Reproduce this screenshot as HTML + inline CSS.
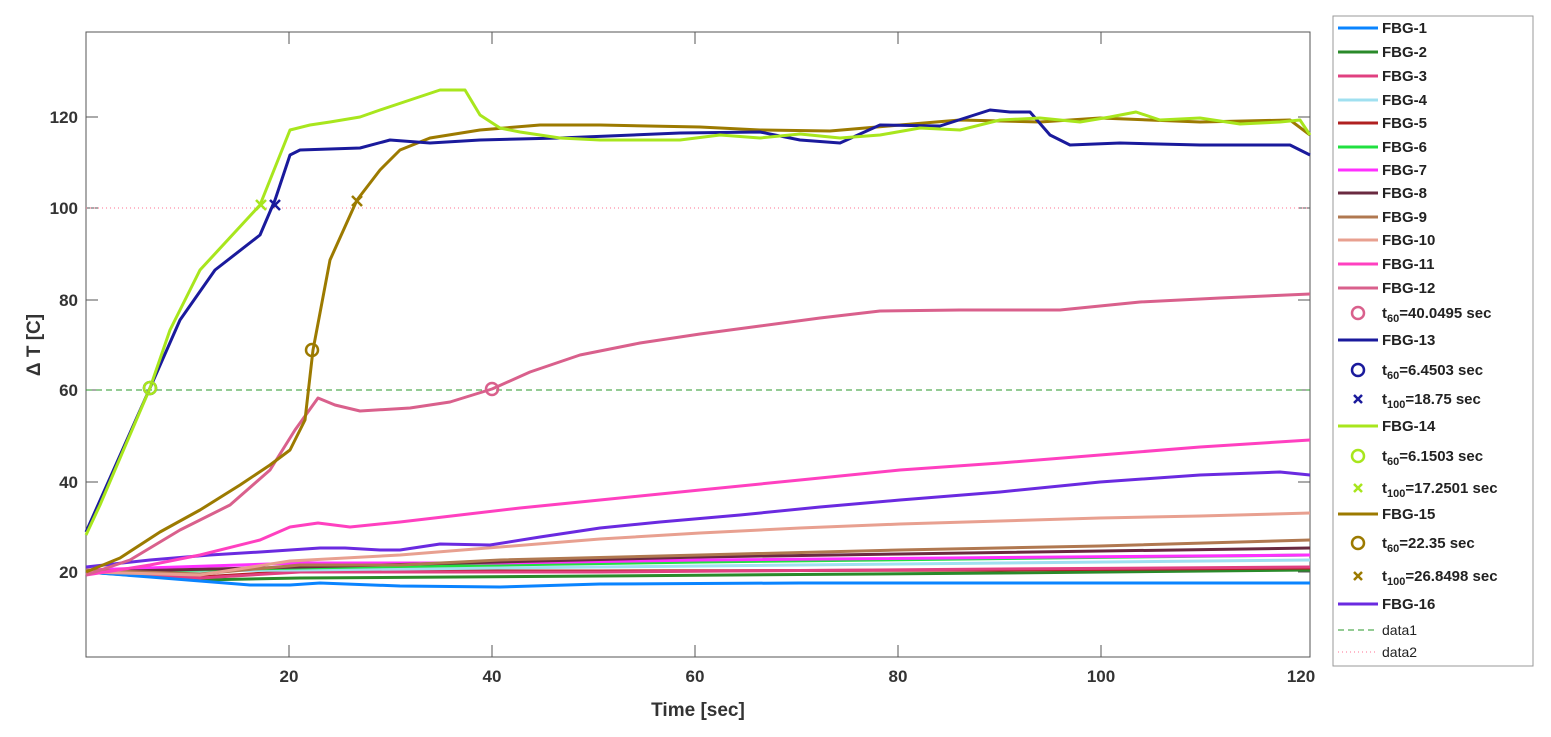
<!DOCTYPE html>
<html><head><meta charset="utf-8"><style>
html,body{margin:0;padding:0;background:#fff;}
svg{display:block;font-family:"Liberation Sans",Arial,sans-serif;}
</style></head><body>
<svg width="1551" height="737" viewBox="0 0 1551 737" xmlns="http://www.w3.org/2000/svg">
<rect width="1551" height="737" fill="#fff"/>
<!-- axes box -->
<rect x="86" y="32" width="1224" height="625" fill="none" stroke="#555" stroke-width="1"/>
<g stroke="#555" stroke-width="1">
<line x1="289" y1="657" x2="289" y2="645"/><line x1="492" y1="657" x2="492" y2="645"/><line x1="695" y1="657" x2="695" y2="645"/><line x1="898" y1="657" x2="898" y2="645"/><line x1="1101" y1="657" x2="1101" y2="645"/>
<line x1="289" y1="32" x2="289" y2="44"/><line x1="492" y1="32" x2="492" y2="44"/><line x1="695" y1="32" x2="695" y2="44"/><line x1="898" y1="32" x2="898" y2="44"/><line x1="1101" y1="32" x2="1101" y2="44"/>
<line x1="86" y1="117" x2="98" y2="117"/><line x1="86" y1="208" x2="98" y2="208"/><line x1="86" y1="300" x2="98" y2="300"/><line x1="86" y1="390" x2="98" y2="390"/><line x1="86" y1="482" x2="98" y2="482"/><line x1="86" y1="572" x2="98" y2="572"/>
<line x1="1310" y1="117" x2="1298" y2="117"/><line x1="1310" y1="208" x2="1298" y2="208"/><line x1="1310" y1="300" x2="1298" y2="300"/><line x1="1310" y1="390" x2="1298" y2="390"/><line x1="1310" y1="482" x2="1298" y2="482"/><line x1="1310" y1="572" x2="1298" y2="572"/>
</g>
<g font-size="17" font-weight="bold" fill="#333" text-anchor="middle">
<text x="289" y="682">20</text><text x="492" y="682">40</text><text x="695" y="682">60</text><text x="898" y="682">80</text><text x="1101" y="682">100</text><text x="1301" y="682">120</text>
<text x="698" y="716" font-size="19">Time [sec]</text>
</g>
<g font-size="17" font-weight="bold" fill="#333" text-anchor="end">
<text x="78" y="123">120</text><text x="78" y="214">100</text><text x="78" y="306">80</text><text x="78" y="396">60</text><text x="78" y="488">40</text><text x="78" y="578">20</text>
</g>
<text transform="translate(40,345) rotate(-90)" font-size="19" font-weight="bold" fill="#333" text-anchor="middle">Δ T [C]</text>
<!-- reference lines -->
<line x1="86" y1="390" x2="1310" y2="390" stroke="#2a9a2a" stroke-width="1" stroke-dasharray="6,4"/>
<line x1="86" y1="208" x2="1310" y2="208" stroke="#ff7090" stroke-width="1" stroke-dasharray="1,3"/>
<g fill="none" stroke-width="3" stroke-linejoin="round">
<polyline stroke="#2a8a2a" points="86,572 200,580 300,578 600,576 1000,573 1310,570"/>
<polyline stroke="#b02020" points="86,572 200,577 300,571 600,571 1000,570 1310,568"/>
<polyline stroke="#e04080" points="86,572 200,578 300,572 600,572 1000,569 1310,567"/>
<polyline stroke="#a0e0f0" points="86,572 300,570 700,566 1310,560"/>
<polyline stroke="#20e040" points="86,572 300,568 700,562 1310,555"/>
<polyline stroke="#ff30ff" points="86,570 300,563 500,563 700,560 1310,555"/>
<polyline stroke="#6a2a40" points="86,572 300,567 500,562 700,557 900,554 1310,548"/>
<polyline stroke="#b07850" points="86,570 200,574 300,565 400,565 500,560 700,555 900,550 1100,546 1310,540"/>
<polyline stroke="#0a84ff" points="86,572 150,577 250,585 290,585 320,583 400,586 500,587 600,584 800,583 1000,583 1310,583"/>
<polyline stroke="#e8a090" points="86,572 200,575 290,561 400,555 500,547 600,539 700,533 800,528 900,524 1000,521 1100,518 1200,516 1310,513"/>
<polyline stroke="#6a2ae0" points="86,567 150,560 210,555 260,552 290,550 320,548 345,548 380,550 400,550 440,544 490,545 540,537 600,528 660,522 740,515 820,507 900,500 1000,492 1100,482 1200,475 1280,472 1310,475"/>
<polyline stroke="#ff40c0" points="86,575 150,565 200,555 260,540 290,527 318,523 350,527 400,522 460,515 520,508 600,500 700,490 800,480 900,470 1000,463 1100,455 1200,447 1310,440"/>
<polyline stroke="#d9608c" points="86,575 130,560 180,530 230,505 270,470 295,430 318,398 335,405 360,411 410,408 450,402 492,389 530,372 580,355 640,343 700,334 760,326 820,318 880,311 960,310 1060,310 1140,302 1220,298 1310,294"/>
<polyline stroke="#9c7a00" points="86,572 120,558 160,532 200,510 240,485 270,465 290,450 305,420 313,350 330,260 357,200 380,170 400,150 430,138 480,130 540,125 600,125 700,127 760,130 830,131 900,125 960,120 1040,122 1100,118 1200,122 1290,120 1310,135"/>
<polyline stroke="#1a1a9c" points="86,532 150,388 180,320 215,270 260,235 275,200 290,155 300,150 360,148 390,140 430,143 480,140 560,138 680,133 760,132 800,140 840,143 880,125 940,126 990,110 1010,112 1030,112 1050,135 1070,145 1120,143 1200,145 1290,145 1310,155"/>
<polyline stroke="#a8e61d" points="86,535 100,505 150,388 170,330 200,270 260,205 290,130 310,125 330,122 360,117 380,110 410,100 440,90 465,90 480,115 500,128 520,132 560,138 600,140 680,140 720,135 760,138 800,134 840,138 880,135 920,128 960,130 1000,120 1040,118 1080,122 1110,117 1136,112 1160,120 1200,118 1240,124 1280,122 1300,120 1310,135"/>
</g>
<!-- markers -->
<g fill="none" stroke-width="2.5">
<circle cx="150" cy="388" r="6" stroke="#1a1a9c"/>
<circle cx="150" cy="388" r="6" stroke="#a8e61d"/>
<circle cx="312" cy="350" r="6" stroke="#9c7a00"/>
<circle cx="492" cy="389" r="6" stroke="#d9608c"/>
<path d="M256,200 l10,10 M266,200 l-10,10" stroke="#a8e61d"/>
<path d="M270,200 l10,10 M280,200 l-10,10" stroke="#1a1a9c"/>
<path d="M352,196 l10,10 M362,196 l-10,10" stroke="#9c7a00"/>
</g>
<!-- legend -->
<rect x="1333" y="16" width="200" height="650" fill="#fff" stroke="#999" stroke-width="1"/>
<g font-size="15" font-weight="bold" fill="#222">
<g stroke-width="3">
<line x1="1338" y1="28" x2="1378" y2="28" stroke="#0a84ff"/>
<line x1="1338" y1="52" x2="1378" y2="52" stroke="#2a8a2a"/>
<line x1="1338" y1="76" x2="1378" y2="76" stroke="#e04080"/>
<line x1="1338" y1="100" x2="1378" y2="100" stroke="#a0e0f0"/>
<line x1="1338" y1="123" x2="1378" y2="123" stroke="#b02020"/>
<line x1="1338" y1="147" x2="1378" y2="147" stroke="#20e040"/>
<line x1="1338" y1="170" x2="1378" y2="170" stroke="#ff30ff"/>
<line x1="1338" y1="193" x2="1378" y2="193" stroke="#6a2a40"/>
<line x1="1338" y1="217" x2="1378" y2="217" stroke="#b07850"/>
<line x1="1338" y1="240" x2="1378" y2="240" stroke="#e8a090"/>
<line x1="1338" y1="264" x2="1378" y2="264" stroke="#ff40c0"/>
<line x1="1338" y1="288" x2="1378" y2="288" stroke="#d9608c"/>
<line x1="1338" y1="340" x2="1378" y2="340" stroke="#1a1a9c"/>
<line x1="1338" y1="426" x2="1378" y2="426" stroke="#a8e61d"/>
<line x1="1338" y1="514" x2="1378" y2="514" stroke="#9c7a00"/>
<line x1="1338" y1="604" x2="1378" y2="604" stroke="#6a2ae0"/>
</g>
<line x1="1338" y1="630" x2="1378" y2="630" stroke="#2a9a2a" stroke-width="1" stroke-dasharray="6,4"/>
<line x1="1338" y1="652" x2="1378" y2="652" stroke="#ff7090" stroke-width="1" stroke-dasharray="1,3"/>
<g fill="none" stroke-width="2.5">
<circle cx="1358" cy="313" r="6" stroke="#d9608c"/>
<circle cx="1358" cy="370" r="6" stroke="#1a1a9c"/>
<path d="M1354,395 l8,8 M1362,395 l-8,8" stroke="#1a1a9c"/>
<circle cx="1358" cy="456" r="6" stroke="#a8e61d"/>
<path d="M1354,484 l8,8 M1362,484 l-8,8" stroke="#a8e61d"/>
<circle cx="1358" cy="543" r="6" stroke="#9c7a00"/>
<path d="M1354,572 l8,8 M1362,572 l-8,8" stroke="#9c7a00"/>
</g>
<text x="1382" y="33">FBG-1</text>
<text x="1382" y="57">FBG-2</text>
<text x="1382" y="81">FBG-3</text>
<text x="1382" y="105">FBG-4</text>
<text x="1382" y="128">FBG-5</text>
<text x="1382" y="152">FBG-6</text>
<text x="1382" y="175">FBG-7</text>
<text x="1382" y="198">FBG-8</text>
<text x="1382" y="222">FBG-9</text>
<text x="1382" y="245">FBG-10</text>
<text x="1382" y="269">FBG-11</text>
<text x="1382" y="293">FBG-12</text>
<text x="1382" y="318">t<tspan font-size="11" dy="4">60</tspan><tspan dy="-4">=40.0495 sec</tspan></text>
<text x="1382" y="345">FBG-13</text>
<text x="1382" y="375">t<tspan font-size="11" dy="4">60</tspan><tspan dy="-4">=6.4503 sec</tspan></text>
<text x="1382" y="404">t<tspan font-size="11" dy="4">100</tspan><tspan dy="-4">=18.75 sec</tspan></text>
<text x="1382" y="431">FBG-14</text>
<text x="1382" y="461">t<tspan font-size="11" dy="4">60</tspan><tspan dy="-4">=6.1503 sec</tspan></text>
<text x="1382" y="493">t<tspan font-size="11" dy="4">100</tspan><tspan dy="-4">=17.2501 sec</tspan></text>
<text x="1382" y="519">FBG-15</text>
<text x="1382" y="548">t<tspan font-size="11" dy="4">60</tspan><tspan dy="-4">=22.35 sec</tspan></text>
<text x="1382" y="581">t<tspan font-size="11" dy="4">100</tspan><tspan dy="-4">=26.8498 sec</tspan></text>
<text x="1382" y="609">FBG-16</text>
<text x="1382" y="635" font-weight="normal" font-size="14">data1</text>
<text x="1382" y="657" font-weight="normal" font-size="14">data2</text>
</g>
</svg>
</body></html>
